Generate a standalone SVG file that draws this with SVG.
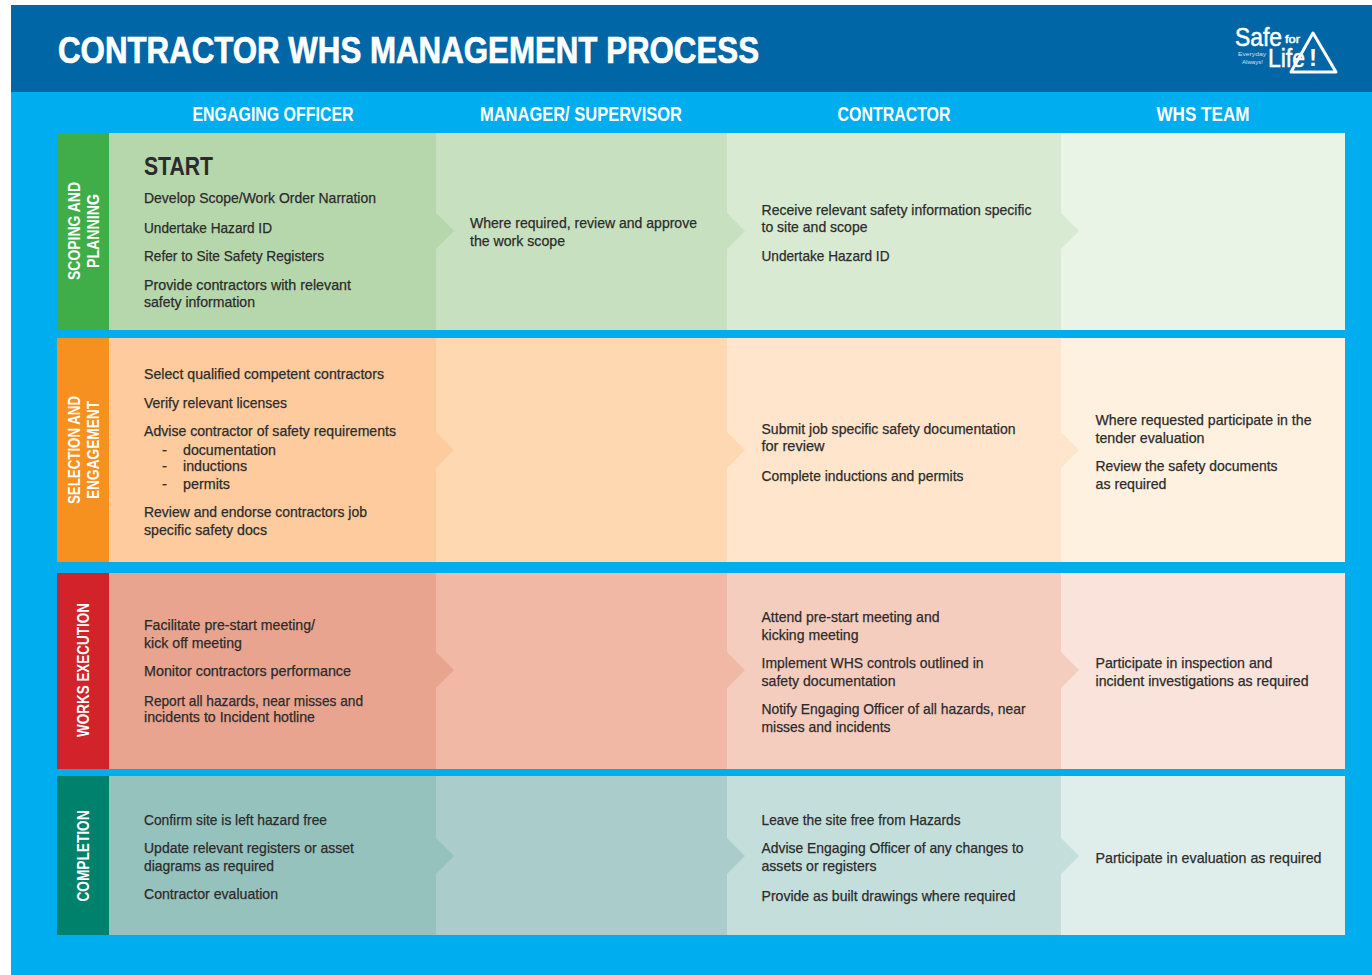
<svg xmlns="http://www.w3.org/2000/svg" width="1372" height="975" viewBox="0 0 1372 975">
<style>
text{font-family:"Liberation Sans",Arial,sans-serif}
.b{font-size:15px;fill:#2b2b2b;stroke:#2b2b2b;stroke-width:0.25px}
.h{font-size:20px;font-weight:700;fill:#fff;text-anchor:middle}
.v{font-size:16px;font-weight:700;fill:#fff;text-anchor:middle}
.l{fill:#fff;stroke:#fff;stroke-width:0.5px}
</style>
<rect width="1372" height="975" fill="#fff"/>
<rect x="11" y="92" width="1361" height="883" fill="#00aeef"/>
<rect x="11" y="5" width="1361" height="87" fill="#0066a6"/>
<text x="58" y="63" font-size="36" font-weight="700" fill="#fff" stroke="#fff" stroke-width="0.7" textLength="701" lengthAdjust="spacingAndGlyphs">CONTRACTOR WHS MANAGEMENT PROCESS</text>
<g id="logo">
<text class="l" x="1235" y="46" font-size="25" textLength="47" lengthAdjust="spacingAndGlyphs">Safe</text>
<text class="l" x="1285" y="43" font-size="10" textLength="15" lengthAdjust="spacingAndGlyphs">for</text>
<text class="l" x="1268" y="67" font-size="25" textLength="37" lengthAdjust="spacingAndGlyphs">Life</text>
<text x="1238" y="55.5" font-size="5" fill="#cfe0ec" textLength="28" lengthAdjust="spacingAndGlyphs">Everyday</text>
<text x="1242" y="63.5" font-size="5" fill="#cfe0ec" textLength="21" lengthAdjust="spacingAndGlyphs">Always!</text>
<path d="M1313 33L1336 72H1291Z" fill="none" stroke="#fff" stroke-width="3" stroke-linejoin="round"/>
<text x="1313" y="66" font-size="24" font-weight="700" fill="#fff" text-anchor="middle">!</text>
</g>
<g id="col-headers">
<text class="h" x="273" y="121" textLength="161" lengthAdjust="spacingAndGlyphs">ENGAGING OFFICER</text>
<text class="h" x="581" y="121" textLength="202" lengthAdjust="spacingAndGlyphs">MANAGER/ SUPERVISOR</text>
<text class="h" x="894" y="121" textLength="113" lengthAdjust="spacingAndGlyphs">CONTRACTOR</text>
<text class="h" x="1203" y="121" textLength="93" lengthAdjust="spacingAndGlyphs">WHS TEAM</text>
</g>
<g id="row-scoping">
<rect x="57" y="133" width="52" height="197" fill="#3fae49"/>
<rect x="109" y="133" width="327" height="197" fill="#b6d6ab"/>
<rect x="436" y="133" width="291" height="197" fill="#c7e0bf"/>
<rect x="727" y="133" width="334" height="197" fill="#d8ead1"/>
<rect x="1061" y="133" width="284" height="197" fill="#e9f4e6"/>
<path d="M436 213L454 231L436 249Z" fill="#b6d6ab"/>
<path d="M727 213L745 231L727 249Z" fill="#c7e0bf"/>
<path d="M1061 213L1079 231L1061 249Z" fill="#d8ead1"/>
<text class="v" transform="translate(80 231) rotate(-90)" textLength="98" lengthAdjust="spacingAndGlyphs">SCOPING AND</text>
<text class="v" transform="translate(99 231) rotate(-90)" textLength="74" lengthAdjust="spacingAndGlyphs">PLANNING</text>
<text x="144" y="175" font-size="25" font-weight="700" fill="#2b2b2b" textLength="69" lengthAdjust="spacingAndGlyphs">START</text>
<text class="b" x="144" y="203" textLength="232" lengthAdjust="spacingAndGlyphs">Develop Scope/Work Order Narration</text>
<text class="b" x="144" y="233" textLength="128" lengthAdjust="spacingAndGlyphs">Undertake Hazard ID</text>
<text class="b" x="144" y="261" textLength="180" lengthAdjust="spacingAndGlyphs">Refer to Site Safety Registers</text>
<text class="b" x="144" y="290" textLength="207" lengthAdjust="spacingAndGlyphs">Provide contractors with relevant</text>
<text class="b" x="144" y="307" textLength="111" lengthAdjust="spacingAndGlyphs">safety information</text>
<text class="b" x="470" y="228" textLength="227" lengthAdjust="spacingAndGlyphs">Where required, review and approve</text>
<text class="b" x="470" y="246" textLength="95" lengthAdjust="spacingAndGlyphs">the work scope</text>
<text class="b" x="761.5" y="215" textLength="270" lengthAdjust="spacingAndGlyphs">Receive relevant safety information specific</text>
<text class="b" x="761.5" y="232" textLength="106" lengthAdjust="spacingAndGlyphs">to site and scope</text>
<text class="b" x="761.5" y="261" textLength="128" lengthAdjust="spacingAndGlyphs">Undertake Hazard ID</text>
</g>
<g id="row-selection">
<rect x="57" y="338" width="52" height="224" fill="#f6901e"/>
<rect x="109" y="338" width="327" height="224" fill="#fdcb9e"/>
<rect x="436" y="338" width="291" height="224" fill="#fed8b1"/>
<rect x="727" y="338" width="334" height="224" fill="#ffe5cb"/>
<rect x="1061" y="338" width="284" height="224" fill="#fff1e0"/>
<path d="M436 432L454 450L436 468Z" fill="#fdcb9e"/>
<path d="M727 432L745 450L727 468Z" fill="#fed8b1"/>
<path d="M1061 432L1079 450L1061 468Z" fill="#ffe5cb"/>
<text class="v" transform="translate(80 450) rotate(-90)" textLength="108" lengthAdjust="spacingAndGlyphs">SELECTION AND</text>
<text class="v" transform="translate(99 450) rotate(-90)" textLength="98" lengthAdjust="spacingAndGlyphs">ENGAGEMENT</text>
<text class="b" x="144" y="379" textLength="240" lengthAdjust="spacingAndGlyphs">Select qualified competent contractors</text>
<text class="b" x="144" y="408" textLength="143" lengthAdjust="spacingAndGlyphs">Verify relevant licenses</text>
<text class="b" x="144" y="436" textLength="252" lengthAdjust="spacingAndGlyphs">Advise contractor of safety requirements</text>
<text class="b" x="162" y="454.5">-</text>
<text class="b" x="183" y="454.5" textLength="93" lengthAdjust="spacingAndGlyphs">documentation</text>
<text class="b" x="162" y="471">-</text>
<text class="b" x="183" y="471" textLength="64" lengthAdjust="spacingAndGlyphs">inductions</text>
<text class="b" x="162" y="489">-</text>
<text class="b" x="183" y="489" textLength="47" lengthAdjust="spacingAndGlyphs">permits</text>
<text class="b" x="144" y="516.5" textLength="223" lengthAdjust="spacingAndGlyphs">Review and endorse contractors job</text>
<text class="b" x="144" y="534.5" textLength="123" lengthAdjust="spacingAndGlyphs">specific safety docs</text>
<text class="b" x="761.5" y="434" textLength="254" lengthAdjust="spacingAndGlyphs">Submit job specific safety documentation</text>
<text class="b" x="761.5" y="451" textLength="63" lengthAdjust="spacingAndGlyphs">for review</text>
<text class="b" x="761.5" y="481" textLength="202" lengthAdjust="spacingAndGlyphs">Complete inductions and permits</text>
<text class="b" x="1095.5" y="425" textLength="216" lengthAdjust="spacingAndGlyphs">Where requested participate in the</text>
<text class="b" x="1095.5" y="443" textLength="109" lengthAdjust="spacingAndGlyphs">tender evaluation</text>
<text class="b" x="1095.5" y="471" textLength="182" lengthAdjust="spacingAndGlyphs">Review the safety documents</text>
<text class="b" x="1095.5" y="489" textLength="71" lengthAdjust="spacingAndGlyphs">as required</text>
</g>
<g id="row-works">
<rect x="57" y="573" width="52" height="196" fill="#d2232a"/>
<rect x="109" y="573" width="327" height="196" fill="#e9a48f"/>
<rect x="436" y="573" width="291" height="196" fill="#f1b8a5"/>
<rect x="727" y="573" width="334" height="196" fill="#f5cdbf"/>
<rect x="1061" y="573" width="284" height="196" fill="#f9e3da"/>
<path d="M436 652L454 670L436 688Z" fill="#e9a48f"/>
<path d="M727 652L745 670L727 688Z" fill="#f1b8a5"/>
<path d="M1061 652L1079 670L1061 688Z" fill="#f5cdbf"/>
<text class="v" transform="translate(89 670) rotate(-90)" textLength="134" lengthAdjust="spacingAndGlyphs">WORKS EXECUTION</text>
<text class="b" x="144" y="630" textLength="171" lengthAdjust="spacingAndGlyphs">Facilitate pre-start meeting/</text>
<text class="b" x="144" y="648" textLength="98" lengthAdjust="spacingAndGlyphs">kick off meeting</text>
<text class="b" x="144" y="676" textLength="207" lengthAdjust="spacingAndGlyphs">Monitor contractors performance</text>
<text class="b" x="144" y="705.5" textLength="219" lengthAdjust="spacingAndGlyphs">Report all hazards, near misses and</text>
<text class="b" x="144" y="722" textLength="171" lengthAdjust="spacingAndGlyphs">incidents to Incident hotline</text>
<text class="b" x="761.5" y="622" textLength="178" lengthAdjust="spacingAndGlyphs">Attend pre-start meeting and</text>
<text class="b" x="761.5" y="640" textLength="97" lengthAdjust="spacingAndGlyphs">kicking meeting</text>
<text class="b" x="761.5" y="668" textLength="222" lengthAdjust="spacingAndGlyphs">Implement WHS controls outlined in</text>
<text class="b" x="761.5" y="686" textLength="134" lengthAdjust="spacingAndGlyphs">safety documentation</text>
<text class="b" x="761.5" y="714" textLength="264" lengthAdjust="spacingAndGlyphs">Notify Engaging Officer of all hazards, near</text>
<text class="b" x="761.5" y="732" textLength="129" lengthAdjust="spacingAndGlyphs">misses and incidents</text>
<text class="b" x="1095.5" y="668" textLength="177" lengthAdjust="spacingAndGlyphs">Participate in inspection and</text>
<text class="b" x="1095.5" y="686" textLength="213" lengthAdjust="spacingAndGlyphs">incident investigations as required</text>
</g>
<g id="row-completion">
<rect x="57" y="776" width="52" height="159" fill="#00816d"/>
<rect x="109" y="776" width="327" height="159" fill="#96c2bd"/>
<rect x="436" y="776" width="291" height="159" fill="#aacdcc"/>
<rect x="727" y="776" width="334" height="159" fill="#c4dedb"/>
<rect x="1061" y="776" width="284" height="159" fill="#e0eeeb"/>
<path d="M436 838L454 856L436 874Z" fill="#96c2bd"/>
<path d="M727 838L745 856L727 874Z" fill="#aacdcc"/>
<path d="M1061 838L1079 856L1061 874Z" fill="#c4dedb"/>
<text class="v" transform="translate(89 856) rotate(-90)" textLength="91" lengthAdjust="spacingAndGlyphs">COMPLETION</text>
<text class="b" x="144" y="825" textLength="183" lengthAdjust="spacingAndGlyphs">Confirm site is left hazard free</text>
<text class="b" x="144" y="853" textLength="210" lengthAdjust="spacingAndGlyphs">Update relevant registers or asset</text>
<text class="b" x="144" y="871" textLength="130" lengthAdjust="spacingAndGlyphs">diagrams as required</text>
<text class="b" x="144" y="899" textLength="134" lengthAdjust="spacingAndGlyphs">Contractor evaluation</text>
<text class="b" x="761.5" y="825" textLength="199" lengthAdjust="spacingAndGlyphs">Leave the site free from Hazards</text>
<text class="b" x="761.5" y="853" textLength="262" lengthAdjust="spacingAndGlyphs">Advise Engaging Officer of any changes to</text>
<text class="b" x="761.5" y="871" textLength="115" lengthAdjust="spacingAndGlyphs">assets or registers</text>
<text class="b" x="761.5" y="901" textLength="254" lengthAdjust="spacingAndGlyphs">Provide as built drawings where required</text>
<text class="b" x="1095.5" y="863" textLength="226" lengthAdjust="spacingAndGlyphs">Participate in evaluation as required</text>
</g>
</svg>
